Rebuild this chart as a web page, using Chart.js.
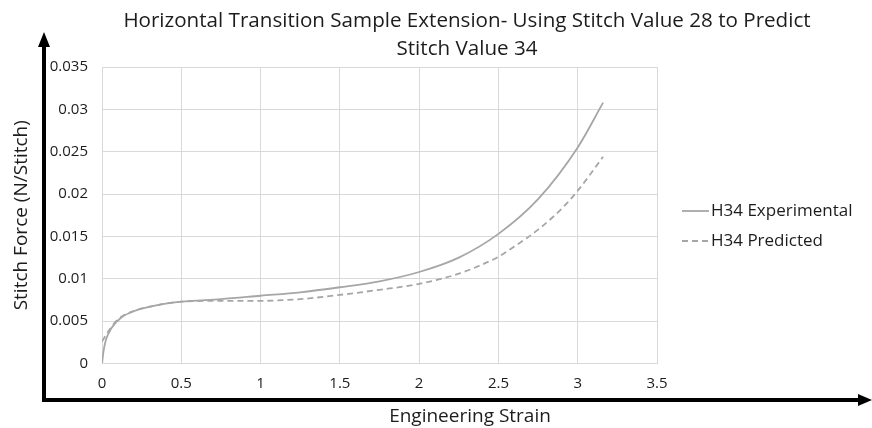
<!DOCTYPE html>
<html>
<head>
<meta charset="utf-8">
<script src="https://cdn.jsdelivr.net/npm/chart.js@4.4.1/dist/chart.umd.min.js"></script>
<style>
  html, body { margin: 0; padding: 0; background: #fff; }
  #wrap { width: 872px; height: 428px; }
</style>
</head>
<body>
<div id="wrap"><canvas id="chart" width="872" height="428"></canvas></div>
<script>
// values
const experimentalStrain = [0, 0.01, 0.025, 0.06, 0.12, 0.22, 0.35, 0.5, 0.75, 1.0, 1.25, 1.5, 1.75, 2.0, 2.25, 2.5, 2.75, 3.0, 3.16]
const experimentalForce = [0, 0.0015, 0.0028, 0.0042, 0.0054, 0.0063, 0.0069, 0.0073, 0.0076, 0.0080, 0.0084, 0.0090, 0.0097, 0.0108, 0.0125, 0.0153, 0.0194, 0.0255, 0.0308]

const predictedStrain = [0, 0.04, 0.1, 0.2, 0.35, 0.5, 0.75, 1.0, 1.25, 1.5, 1.75, 2.0, 2.25, 2.4, 2.5, 2.6, 2.75, 2.9, 3.0, 3.16]
const predictedForce = [0.0026, 0.0038, 0.0052, 0.0062, 0.0069, 0.0073, 0.0074, 0.0074, 0.0076, 0.0081, 0.0087, 0.0094, 0.0106, 0.0117, 0.0126, 0.0138, 0.0158, 0.0183, 0.0204, 0.0244]

const xTicks = [0, 0.5, 1, 1.5, 2, 2.5, 3, 3.5]
const yTicks = [0, 0.005, 0.01, 0.015, 0.02, 0.025, 0.03, 0.035]

const seriesNames = ["H34 Experimental", "H34 Predicted"]
const titleLines = ["Horizontal Transition Sample Extension- Using Stitch Value 28 to Predict", "Stitch Value 34"]
const xTitle = "Engineering Strain"
const yTitle = "Stitch Force (N/Stitch)"

const FONT = '"Open Sans", sans-serif'
const TEXT = "#1c1c1c"
const LINE = "#a6a6a6"
const GRID = "#d9d9d9"

const toPoints = (xs, ys) => xs.map((x, i) => ({ x: x, y: ys[i] }))
const fmt = v => String(parseFloat(v.toFixed(3)))

// title, x title, legend and the two black arrows
const decor = {
  id: "decor",
  afterDraw(chart) {
    const ctx = chart.ctx
    ctx.save()

    ctx.fillStyle = TEXT
    ctx.textAlign = "center"
    ctx.textBaseline = "alphabetic"
    ctx.font = "20.6px " + FONT
    ctx.fillText(titleLines[0], 467, 27)
    ctx.fillText(titleLines[1], 467, 55)

    ctx.font = "19px " + FONT
    ctx.fillText(xTitle, 470, 422)

    // arrows
    ctx.strokeStyle = "#000"
    ctx.fillStyle = "#000"
    ctx.lineWidth = 4
    ctx.beginPath()
    ctx.moveTo(42, 400)
    ctx.lineTo(862, 400)
    ctx.moveTo(44, 402)
    ctx.lineTo(44, 44)
    ctx.stroke()
    ctx.beginPath()
    ctx.moveTo(44, 32)
    ctx.lineTo(38, 47)
    ctx.lineTo(50, 47)
    ctx.closePath()
    ctx.fill()
    ctx.beginPath()
    ctx.moveTo(872, 400)
    ctx.lineTo(858, 394)
    ctx.lineTo(858, 406)
    ctx.closePath()
    ctx.fill()

    // legend
    const items = chart.data.datasets
    ctx.font = "17px " + FONT
    ctx.textAlign = "left"
    ctx.textBaseline = "middle"
    items.forEach((ds, i) => {
      const y = 211 + i * 30
      ctx.strokeStyle = ds.borderColor
      ctx.lineWidth = ds.borderWidth
      ctx.setLineDash(ds.borderDash || [])
      ctx.beginPath()
      ctx.moveTo(682, y)
      ctx.lineTo(709, y)
      ctx.stroke()
      ctx.setLineDash([])
      ctx.fillStyle = TEXT
      ctx.fillText(ds.label, 711, y)
    })

    ctx.restore()
  }
}

const chart = new Chart(document.getElementById("chart"), {
  type: "line",
  data: {
    datasets: [
      {
        label: seriesNames[0],
        data: toPoints(experimentalStrain, experimentalForce),
        borderColor: LINE,
        borderWidth: 1.8,
        pointRadius: 0,
        cubicInterpolationMode: "monotone",
        fill: false
      },
      {
        label: seriesNames[1],
        data: toPoints(predictedStrain, predictedForce),
        borderColor: LINE,
        borderWidth: 1.8,
        borderDash: [6, 4],
        pointRadius: 0,
        cubicInterpolationMode: "monotone",
        fill: false
      }
    ]
  },
  options: {
    responsive: false,
    animation: false,
    events: [],
    layout: {
      padding: { top: 67, right: 215, bottom: 0, left: 0 }
    },
    plugins: {
      legend: { display: false },
      title: { display: false },
      tooltip: { enabled: false }
    },
    scales: {
      x: {
        type: "linear",
        min: 0,
        max: 3.5,
        afterBuildTicks: scale => { scale.ticks = xTicks.map(v => ({ value: v })) },
        afterFit: scale => { scale.height = 64.5 },
        grid: { color: GRID, drawTicks: false },
        border: { color: GRID },
        ticks: {
          padding: 11,
          color: TEXT,
          font: { family: FONT, size: 15 },
          maxRotation: 0,
          callback: v => fmt(v)
        }
      },
      y: {
        type: "linear",
        min: 0,
        max: 0.035,
        afterBuildTicks: scale => { scale.ticks = yTicks.map(v => ({ value: v })) },
        afterFit: scale => { scale.width = 102 },
        grid: { color: GRID, drawTicks: false },
        border: { color: GRID },
        title: {
          display: true,
          text: yTitle,
          color: TEXT,
          font: { family: FONT, size: 19 },
          padding: { top: 10, bottom: 0 }
        },
        ticks: {
          padding: 14,
          color: TEXT,
          font: { family: FONT, size: 15 },
          callback: v => fmt(v)
        }
      }
    }
  },
  plugins: [decor]
})
</script>
</body>
</html>
